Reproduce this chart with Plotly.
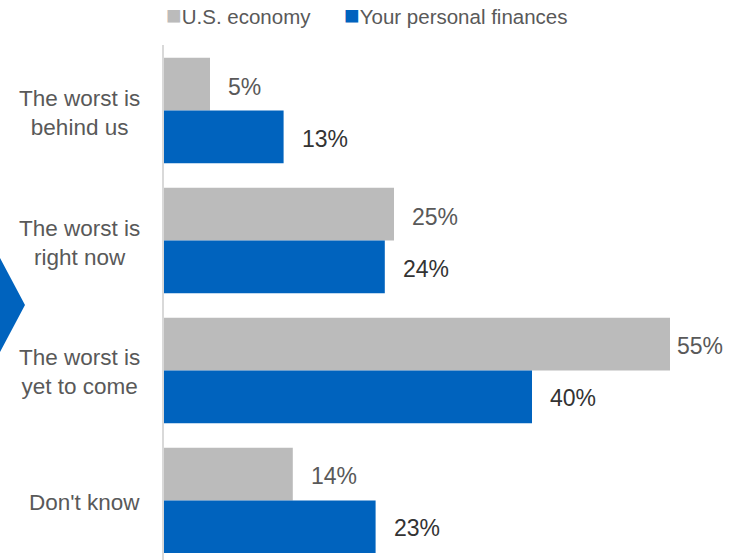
import plotly.graph_objects as go

# Survey answers: when will the worst be over?
categories = ["The worst is behind us", "The worst is right now",
              "The worst is yet to come", "Don't know"]
category_labels = ["The worst is<br>behind us", "The worst is<br>right now",
                   "The worst is<br>yet to come", "Don't know"]
economy = [5, 25, 55, 14]
personal = [13, 24, 40, 23]
series_names = ["U.S. economy", "Your personal finances"]

# Styling
GRAY = "#BBBBBB"
BLUE = "#0063BE"
TEXT = "#595959"
DARK = "#333333"
FONT = "Liberation Sans, Arial, sans-serif"
W, H = 735, 560
L, T = 164, 45
PLOT_W, PLOT_H = W - L, H - T
X_MAX = PLOT_W / 9.2
gray_label_pad = [16, 16, 5, 16]
blue_label_pad = [16, 16, 16, 16]

fig = go.Figure()
fig.add_trace(go.Bar(y=categories, x=economy, orientation="h", name=series_names[0],
                     marker=dict(color=GRAY, line=dict(width=0))))
fig.add_trace(go.Bar(y=categories, x=personal, orientation="h", name=series_names[1],
                     marker=dict(color=BLUE, line=dict(width=0))))

annotations = []
# value labels, left-anchored just past the end of each bar
for cat, v, pad in zip(categories, economy, gray_label_pad):
    annotations.append(dict(x=v, y=cat, xref="x", yref="y", text=f"{v}%",
                            showarrow=False, xanchor="left", yanchor="middle",
                            xshift=pad, yshift=24,
                            font=dict(family=FONT, size=23, color=TEXT)))
for cat, v, pad in zip(categories, personal, blue_label_pad):
    annotations.append(dict(x=v, y=cat, xref="x", yref="y", text=f"{v}%",
                            showarrow=False, xanchor="left", yanchor="middle",
                            xshift=pad, yshift=-28,
                            font=dict(family=FONT, size=23, color=DARK)))
# centred two-line category labels
for cat, lab in zip(categories, category_labels):
    annotations.append(dict(x=0, y=cat, xref="paper", yref="y", text=lab,
                            showarrow=False, xanchor="right", yanchor="middle",
                            align="center", xshift=-22, yshift=-2,
                            font=dict(family=FONT, size=22.5, color=TEXT)))
# legend row
legend_x = [0, (342 - L) / PLOT_W]
for name, col, lx in zip(series_names, [GRAY, BLUE], legend_x):
    annotations.append(dict(x=lx, y=1 + (T - 15) / PLOT_H, xref="paper", yref="paper",
                            text=f"<span style='color:{col};font-size:26px'>■</span>{name}",
                            showarrow=False, xanchor="left", yanchor="middle",
                            font=dict(family=FONT, size=20.5, color=TEXT)))

fig.update_layout(
    width=W, height=H,
    margin=dict(l=L, r=0, t=T, b=0, pad=0),
    paper_bgcolor="white", plot_bgcolor="white",
    barmode="group", bargap=0.19, bargroupgap=0,
    showlegend=False,
    annotations=annotations,
    xaxis=dict(range=[0, X_MAX], visible=False, fixedrange=True),
    yaxis=dict(type="category", categoryorder="array", categoryarray=categories,
               range=[3.458, -0.504], showticklabels=False, ticks="",
               showgrid=False, zeroline=False,
               showline=True, linecolor="#D9D9D9", linewidth=2),
    shapes=[dict(type="path", xref="paper", yref="paper",
                 path=f"M {-L / PLOT_W} {1 - (258 - T) / PLOT_H} "
                      f"L {(25 - L) / PLOT_W} {1 - (305 - T) / PLOT_H} "
                      f"L {-L / PLOT_W} {1 - (352 - T) / PLOT_H} Z",
                 fillcolor=BLUE, line=dict(width=0))],
)

fig.write_html("out.html")
